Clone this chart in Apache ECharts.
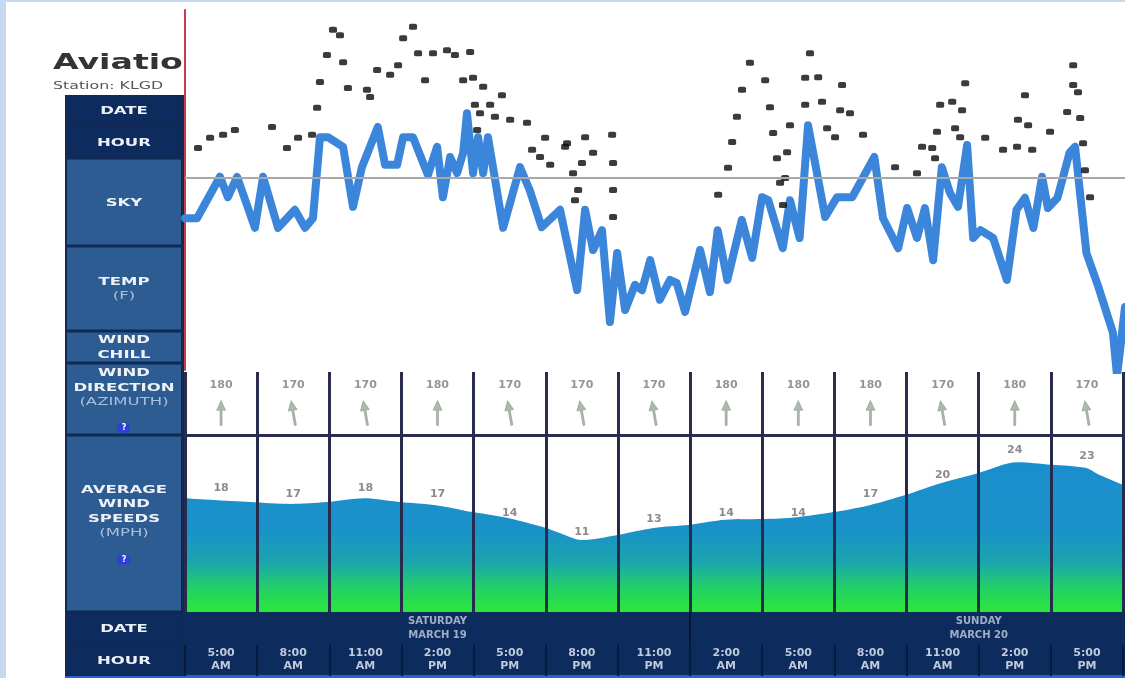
<!DOCTYPE html>
<html><head><meta charset="utf-8">
<script src="https://cdn.jsdelivr.net/npm/echarts@6/dist/echarts.min.js"></script>
<style>html,body{margin:0;padding:0;background:#fff;}#c{width:1125px;height:678px;}</style>
</head><body><div id="c"></div>
<script>
// ---- data ----
const tempHours = [0,0.5,1.45,1.78,2.16,2.9,3.24,3.86,4.56,4.98,5.31,5.6,5.93,6.56,6.97,7.34,8.0,8.3,8.8,9.05,9.46,10.08,10.46,10.7,11.0,11.29,11.54,11.7,11.95,12.16,12.37,12.57,13.2,13.9,14.3,14.8,15.56,16.27,16.6,16.93,17.3,17.63,17.93,18.26,18.67,18.96,19.3,19.7,20.12,20.4,20.75,21.37,21.78,22.1,22.5,23.1,23.53,23.94,24.2,24.8,25.1,25.5,25.85,26.56,27.05,27.68,28.6,28.96,29.59,29.96,30.37,30.7,31.04,31.4,31.74,32.07,32.45,32.7,33.0,33.53,34.1,34.5,34.85,35.2,35.56,35.8,36.2,36.7,36.93,37.4,37.9,38.5,38.67,39.0];
const tempValues = [25.3,25.3,32.2,28.8,32.2,23.7,32.2,23.7,26.7,23.7,25.3,38.8,38.8,37.2,27.2,33.8,40.5,34.2,34.2,38.8,38.8,32.5,37.2,28.8,35.5,32.8,36.2,42.8,32.8,38.8,32.8,38.8,23.7,33.8,30,23.8,26.7,13.3,26.7,20,23.3,8,19.5,10,14.2,13.3,18.3,11.7,15,14.5,9.7,20,13,23.3,15,25,18.7,28.8,28.3,20.3,28.3,22,40.8,25.5,28.8,28.8,35.5,25.3,20.3,27,22,27,18.3,33.8,29.5,27.2,37.5,22,23.3,22,15,26.7,28.7,23.7,32.2,27,28.7,36.2,37.2,19.5,13.8,6.2,-1,10.5];
const dotHours = [0.54,1.04,1.58,2.07,3.61,4.23,4.69,5.27,5.48,5.6,5.89,6.14,6.43,6.56,6.76,7.55,7.68,7.97,8.51,8.84,9.05,9.46,9.67,9.96,10.29,10.87,11.2,11.83,11.54,11.95,12.37,13.15,12.03,12.66,12.24,12.86,13.49,14.19,12.12,14.94,14.4,14.73,15.15,15.85,16.6,16.93,16.47,16.1,16.31,16.18,17.72,17.76,17.76,17.76,15.77,22.12,22.53,22.7,22.9,23.11,23.44,24.07,24.27,24.4,24.56,24.98,24.69,24.9,24.81,25.1,25.73,25.73,26.27,25.93,26.43,26.64,26.97,27.26,27.18,27.59,28.13,29.46,30.37,30.58,31.0,31.12,31.2,31.33,31.83,32.24,31.95,32.16,32.37,33.2,33.94,34.52,35.15,34.56,34.98,34.85,35.89,36.85,36.85,37.05,36.6,37.14,37.26,37.34,37.55];
const dotValues = [37.0,38.7,39.2,40.0,40.5,37.0,38.7,39.2,43.7,48.0,52.5,56.7,55.8,51.3,47.0,46.7,45.5,50.0,49.2,50.8,55.3,57.2,52.8,48.3,52.8,53.3,52.5,53.0,48.3,48.7,47.2,45.8,44.2,44.2,42.8,42.2,41.7,41.2,40.0,38.7,36.7,35.5,34.2,37.8,38.8,36.2,34.5,32.8,30.0,28.3,39.2,34.5,30.0,25.5,37.2,29.2,33.7,38.0,42.2,46.7,51.2,48.3,43.8,39.5,35.3,36.3,31.2,32.0,27.5,40.8,44.2,48.7,48.8,52.8,44.7,40.3,38.8,47.5,43.3,42.8,39.2,33.8,32.8,37.2,37.0,35.3,39.7,44.2,44.7,43.3,40.3,38.8,47.8,38.7,36.7,37.2,36.7,41.7,40.8,45.8,39.7,50.8,47.5,46.3,43.0,42.0,37.8,33.3,28.8];
const freezingLine = 32;
const hourLabels = ['5:00\nAM','8:00\nAM','11:00\nAM','2:00\nPM','5:00\nPM','8:00\nPM','11:00\nPM','2:00\nAM','5:00\nAM','8:00\nAM','11:00\nAM','2:00\nPM','5:00\nPM'];
const windDirections = [180,170,170,180,170,170,170,180,180,180,170,180,170];
const windSpeedLabels = [18,17,18,17,14,11,13,14,14,17,20,24,23];
const windEdgeHours = [0,2.7,4.4,5.9,7.44,8.93,10.43,11.96,13.38,15.0,15.58,16.49,17.99,19.48,20.98,22.48,23.97,25.47,26.96,28.46,29.95,31.45,32.99,34.6,36.02,37.43,38.01,39.0];
const windEdgeValues = [18.0,17.4,17.1,17.4,18.0,17.4,16.9,15.8,14.9,13.3,12.5,11.4,12.2,13.3,13.8,14.6,14.7,15.0,15.8,16.9,18.5,20.4,22.0,23.7,23.3,22.8,21.7,20.1];
const dateLabels = ['SATURDAY\nMARCH 19','SUNDAY\nMARCH 20'];
const dateStartHours = [0,21];
const dateSpanHours = [21,24];

// ---- layout (left label column) ----
const sideRows = [
  {text:'{a|DATE}', y0:95, y1:126, dark:true},
  {text:'{a|HOUR}', y0:126, y1:158, dark:true},
  {text:'{a|SKY}', y0:158, y1:246},
  {text:'{a|TEMP}\n{b|(F)}', y0:246, y1:331},
  {text:'{a|WIND}\n{a|CHILL}', y0:331, y1:363},
  {text:'{a|WIND}\n{a|DIRECTION}\n{b|(AZIMUTH)}', y0:363, y1:435, cy:388, icon:428},
  {text:'{a|AVERAGE}\n{a|WIND}\n{a|SPEEDS}\n{b|(MPH)}', y0:435, y1:612, cy:512, icon:560},
  {text:'{a|DATE}', y0:612, y1:644, dark:true},
  {text:'{a|HOUR}', y0:644, y1:676, dark:true}
];
const FONT = 'DejaVu Sans';
const rich = {
  a:{fontFamily:FONT,fontSize:10,fontWeight:'bold',fill:'#eef2f8',lineHeight:14.5},
  b:{fontFamily:FONT,fontSize:10,fontWeight:'normal',fill:'#a9bfdc',lineHeight:14.5}
};
const graphics = [
  {type:'rect',shape:{x:0,y:0,width:6,height:678},style:{fill:'#c7d9f0'}},
  {type:'rect',shape:{x:0,y:0,width:1125,height:2},style:{fill:'#c7d9f0'}},
  {type:'rect',shape:{x:65,y:612,width:1060,height:64},style:{fill:'#0d2b5c'}},
  {type:'rect',shape:{x:65,y:675,width:1060,height:3},style:{fill:'#2a60d2'}},
  {type:'rect',shape:{x:65,y:95,width:119,height:581},style:{fill:'#112a55'}},
  {type:'text',x:53,y:64,scaleX:1.58,style:{text:'Aviatio',fontFamily:FONT,fontSize:21,fontWeight:'bold',fill:'#333',align:'left',verticalAlign:'middle'}},
  {type:'text',x:53,y:86,scaleX:1.58,style:{text:'Station: KLGD',fontFamily:FONT,fontSize:10,fill:'#555',align:'left',verticalAlign:'middle'}}
];
sideRows.forEach(r => {
  graphics.push({type:'rect',shape:{x:67,y:r.y0+1.5,width:114,height:r.y1-r.y0-3},style:{fill:r.dark?'#0d2c5d':'#2d5c92'}});
  graphics.push({type:'text',x:124,y:r.cy || (r.y0+r.y1)/2 + 1,scaleX:1.65,style:{text:r.text,rich:rich,align:'center',verticalAlign:'middle'}});
  if (r.icon) {
    graphics.push({type:'rect',shape:{x:117,y:r.icon-4.5,width:13,height:9},style:{fill:'#2f40d8'}});
    graphics.push({type:'text',x:124,y:r.icon,style:{text:'?',fontFamily:FONT,fontSize:8,fontWeight:'bold',fill:'#fff',align:'center',verticalAlign:'middle'}});
  }
});

const arrowPath = 'path://M5,0 L9.5,11 L6,11 L6,28 L4,28 L4,11 L0.5,11 Z';
const speedGradient = {type:'linear',x:0,y:435,x2:0,y2:612,global:true,colorStops:[
  {offset:0,color:'#1a8dd0'},{offset:0.55,color:'#1a92c8'},{offset:0.72,color:'#1aa6ac'},
  {offset:0.86,color:'#22cf68'},{offset:1,color:'#2be83a'}]};

const chart = echarts.init(document.getElementById('c'));
chart.setOption({
  animation:false,
  backgroundColor:'#ffffff',
  graphic: graphics,
  grid:[
    {left:185,top:10,width:940,height:360},
    {left:185,top:372,width:938,height:63},
    {left:185,top:435,width:938,height:177},
    {left:185,top:612,width:938,height:33},
    {left:185,top:645,width:938,height:31}
  ],
  xAxis:[
    {gridIndex:0,type:'value',min:0,max:39,show:false},
    {gridIndex:1,type:'category',data:hourLabels,boundaryGap:true,z:10,
      axisLine:{show:true,lineStyle:{color:'#2a2d50',width:3}},axisTick:{show:false},axisLabel:{show:false,interval:0},
      splitLine:{show:true,interval:0,lineStyle:{color:'#2a2d50',width:3}}},
    {gridIndex:2,type:'value',min:0,max:39,interval:3,z:10,
      axisLine:{show:false},axisTick:{show:false},axisLabel:{show:false},
      splitLine:{show:true,lineStyle:{color:'#262a4c',width:3}}},
    {gridIndex:3,type:'value',min:0,max:39,show:false},
    {gridIndex:4,type:'category',data:hourLabels,position:'top',boundaryGap:true,z:5,
      axisLine:{show:false},axisTick:{show:false},
      axisLabel:{inside:true,interval:0,margin:2,color:'#bfcadb',fontSize:11,fontWeight:'bold',fontFamily:FONT,lineHeight:13},
      splitLine:{show:true,interval:0,lineStyle:{color:'#061a3e',width:2}}}
  ],
  yAxis:[
    {gridIndex:0,type:'value',min:0,max:60,axisLine:{show:true,lineStyle:{color:'#cf3b44',width:2}},axisTick:{show:false},axisLabel:{show:false},splitLine:{show:false}},
    {gridIndex:1,type:'value',min:0,max:1,show:false},
    {gridIndex:2,type:'value',min:0,max:28,show:false},
    {gridIndex:3,type:'value',min:0,max:1,show:false},
    {gridIndex:4,type:'value',min:0,max:1,show:false}
  ],
  series:[
    {type:'line',xAxisIndex:0,yAxisIndex:0,data:[],z:1,
      markLine:{silent:true,symbol:'none',label:{show:false},lineStyle:{color:'#a8a8a8',width:2,type:'solid'},data:[{yAxis:freezingLine}]}},
    {type:'line',name:'Temperature',xAxisIndex:0,yAxisIndex:0,z:3,showSymbol:false,clip:true,
      data:tempHours.map((h,i)=>[h,tempValues[i]]),
      lineStyle:{color:'#3b86da',width:8,join:'round',cap:'round'}},
    {type:'scatter',xAxisIndex:0,yAxisIndex:0,z:4,symbol:'roundRect',symbolSize:[8,6],
      itemStyle:{color:'#0a0a0a'},
      data:dotHours.map((h,i)=>[h,dotValues[i]])},
    {type:'scatter',xAxisIndex:1,yAxisIndex:1,symbol:arrowPath,symbolSize:[9,25],
      itemStyle:{color:'#9aa79a',borderColor:'#7b887b',borderWidth:0.5},
      label:{show:true,position:'top',distance:9,fontFamily:FONT,fontSize:11,fontWeight:'bold',color:'#7a7a7a',
        formatter:p=>String(windDirections[p.dataIndex])},
      data:windDirections.map((d,i)=>({value:[i,0.35],symbolRotate:180-d}))},
    {type:'line',xAxisIndex:2,yAxisIndex:2,smooth:0.3,showSymbol:false,z:2,
      lineStyle:{width:0},areaStyle:{color:speedGradient,opacity:1},
      data:windEdgeHours.map((h,i)=>[h,windEdgeValues[i]])},
    {type:'scatter',xAxisIndex:2,yAxisIndex:2,symbolSize:0,z:3,
      label:{show:true,position:'top',distance:5,fontFamily:FONT,fontSize:11,fontWeight:'bold',color:'#6e6e6e',
        formatter:p=>String(windSpeedLabels[p.dataIndex])},
      data:windSpeedLabels.map((v,i)=>[1.5+3*i,v])},
    {type:'scatter',xAxisIndex:3,yAxisIndex:3,symbolSize:0,z:6,
      label:{show:true,position:'inside',fontFamily:FONT,fontSize:10,fontWeight:'bold',color:'#c3cee0',lineHeight:14,
        formatter:p=>dateLabels[p.dataIndex]},
      data:dateLabels.map((d,i)=>[dateStartHours[i]+dateSpanHours[i]/2,0.5]),
      markLine:{silent:true,symbol:'none',label:{show:false},lineStyle:{color:'#06183a',width:2,type:'solid'},
        data:dateStartHours.slice(1).map(h=>({xAxis:h}))}}
  ]
});
</script></body></html>
